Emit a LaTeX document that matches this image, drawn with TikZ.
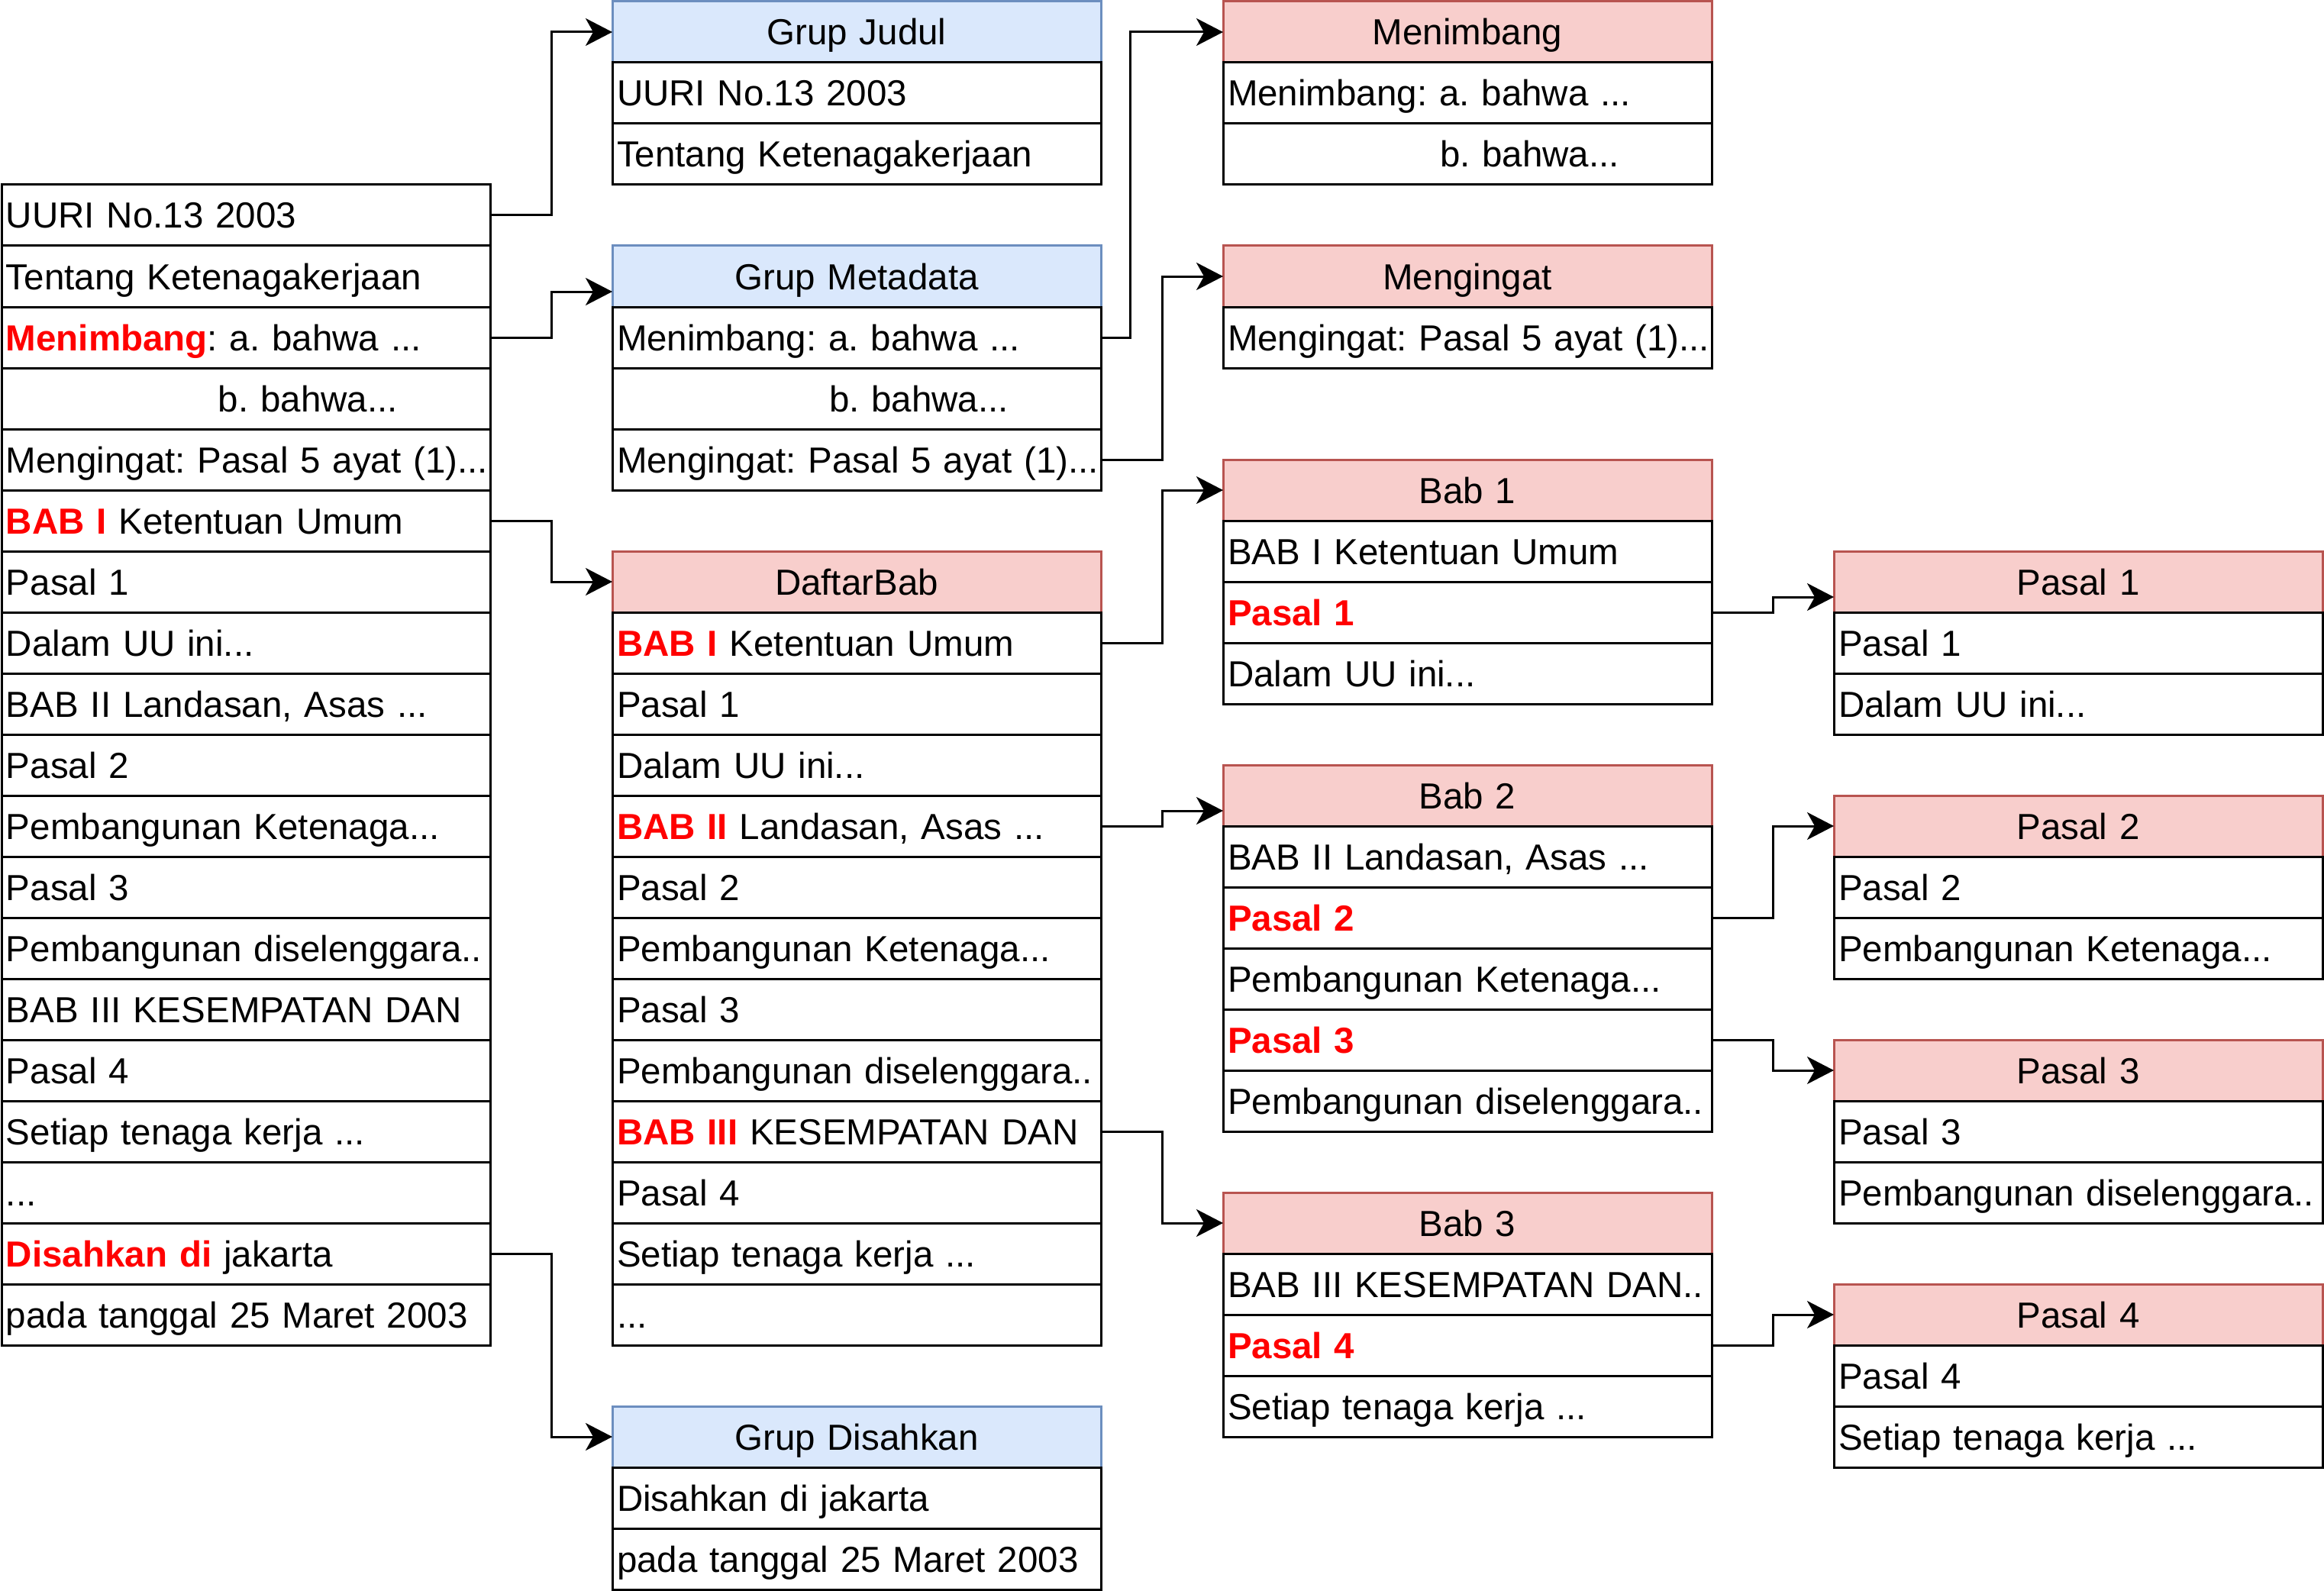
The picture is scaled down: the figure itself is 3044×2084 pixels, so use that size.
\documentclass[tikz,border=0pt]{standalone}
\usepackage{fontspec}
\setmainfont{Liberation Sans}
\usetikzlibrary{arrows.meta,calc}
\definecolor{hblue}{HTML}{DAE8FC}
\definecolor{sblue}{HTML}{6C8EBF}
\definecolor{hred}{HTML}{F8CECC}
\definecolor{sred}{HTML}{B85450}
\definecolor{txtred}{HTML}{FF0000}
\newcommand\rd[1]{\textcolor{txtred}{\textbf{#1}}}
\newcommand\cellfont{\fontsize{47.5pt}{57pt}\selectfont\frenchspacing}
\newcommand\bsp{\hspace*{278pt}}
\frenchspacing
\begin{document}
\begin{tikzpicture}[x=1pt,y=-1pt,
  cell/.style={draw=black,line width=3pt,fill=white,outer sep=0pt,
    minimum width=640pt,minimum height=80pt,text width=628pt,
    inner xsep=6pt,inner ysep=0pt,align=left,text height=34pt,text depth=0pt,
    anchor=north west,font=\cellfont},
  bhead/.style={cell,fill=hblue,draw=sblue,align=center},
  rhead/.style={cell,fill=hred,draw=sred,align=center},
  conn/.style={draw=black,line width=3pt,-{Stealth[length=35pt,width=36pt,inset=10pt]}}]
\useasboundingbox (0,0) rectangle (3044,2084);

% ---------- left column ----------
\node[cell] (L0)  at (2,242)  {UURI No.13 2003};
\node[cell] (L1)  at (2,322)  {Tentang Ketenagakerjaan};
\node[cell] (L2)  at (2,402)  {\rd{Menimbang}: a. bahwa ...};
\node[cell] (L3)  at (2,482)  {\bsp b. bahwa...};
\node[cell] (L4)  at (2,562)  {\mbox{Mengingat: Pasal 5 ayat (1)...}};
\node[cell] (L5)  at (2,642)  {\rd{BAB I} Ketentuan Umum};
\node[cell] (L6)  at (2,722)  {Pasal 1};
\node[cell] (L7)  at (2,802)  {Dalam UU ini...};
\node[cell] (L8)  at (2,882)  {BAB II Landasan, Asas ...};
\node[cell] (L9)  at (2,962)  {Pasal 2};
\node[cell] (L10) at (2,1042) {Pembangunan Ketenaga...};
\node[cell] (L11) at (2,1122) {Pasal 3};
\node[cell] (L12) at (2,1202) {\mbox{Pembangunan diselenggara..}};
\node[cell] (L13) at (2,1282) {BAB III KESEMPATAN DAN};
\node[cell] (L14) at (2,1362) {Pasal 4};
\node[cell] (L15) at (2,1442) {Setiap tenaga kerja ...};
\node[cell] (L16) at (2,1522) {...};
\node[cell] (L17) at (2,1602) {\rd{Disahkan di} jakarta};
\node[cell] (L18) at (2,1682) {pada tanggal 25 Maret 2003};

% ---------- second column ----------
\node[bhead] (GJ)  at (802,2)   {Grup Judul};
\node[cell]  (GJ1) at (802,82)  {UURI No.13 2003};
\node[cell]  (GJ2) at (802,162) {Tentang Ketenagakerjaan};

\node[bhead] (GM)  at (802,322) {Grup Metadata};
\node[cell]  (GM1) at (802,402) {Menimbang: a. bahwa ...};
\node[cell]  (GM2) at (802,482) {\bsp b. bahwa...};
\node[cell]  (GM3) at (802,562) {\mbox{Mengingat: Pasal 5 ayat (1)...}};

\node[rhead] (DB)   at (802,722)  {DaftarBab};
\node[cell]  (DB1)  at (802,802)  {\rd{BAB I} Ketentuan Umum};
\node[cell]  (DB2)  at (802,882)  {Pasal 1};
\node[cell]  (DB3)  at (802,962)  {Dalam UU ini...};
\node[cell]  (DB4)  at (802,1042) {\rd{BAB II} Landasan, Asas ...};
\node[cell]  (DB5)  at (802,1122) {Pasal 2};
\node[cell]  (DB6)  at (802,1202) {Pembangunan Ketenaga...};
\node[cell]  (DB7)  at (802,1282) {Pasal 3};
\node[cell]  (DB8)  at (802,1362) {\mbox{Pembangunan diselenggara..}};
\node[cell]  (DB9)  at (802,1442) {\rd{BAB III} KESEMPATAN DAN};
\node[cell]  (DB10) at (802,1522) {Pasal 4};
\node[cell]  (DB11) at (802,1602) {Setiap tenaga kerja ...};
\node[cell]  (DB12) at (802,1682) {...};

\node[bhead] (GD)  at (802,1842) {Grup Disahkan};
\node[cell]  (GD1) at (802,1922) {Disahkan di jakarta};
\node[cell]  (GD2) at (802,2002) {pada tanggal 25 Maret 2003};

% ---------- third column ----------
\node[rhead] (MN)  at (1602,2)   {Menimbang};
\node[cell]  (MN1) at (1602,82)  {Menimbang: a. bahwa ...};
\node[cell]  (MN2) at (1602,162) {\bsp b. bahwa...};

\node[rhead] (MG)  at (1602,322) {Mengingat};
\node[cell]  (MG1) at (1602,402) {\mbox{Mengingat: Pasal 5 ayat (1)...}};

\node[rhead] (B1)  at (1602,602) {Bab 1};
\node[cell]  (B1a) at (1602,682) {BAB I Ketentuan Umum};
\node[cell]  (B1b) at (1602,762) {\rd{Pasal 1}};
\node[cell]  (B1c) at (1602,842) {Dalam UU ini...};

\node[rhead] (B2)  at (1602,1002) {Bab 2};
\node[cell]  (B2a) at (1602,1082) {BAB II Landasan, Asas ...};
\node[cell]  (B2b) at (1602,1162) {\rd{Pasal 2}};
\node[cell]  (B2c) at (1602,1242) {Pembangunan Ketenaga...};
\node[cell]  (B2d) at (1602,1322) {\rd{Pasal 3}};
\node[cell]  (B2e) at (1602,1402) {\mbox{Pembangunan diselenggara..}};

\node[rhead] (B3)  at (1602,1562) {Bab 3};
\node[cell]  (B3a) at (1602,1642) {\mbox{BAB III KESEMPATAN DAN..}};
\node[cell]  (B3b) at (1602,1722) {\rd{Pasal 4}};
\node[cell]  (B3c) at (1602,1802) {Setiap tenaga kerja ...};

% ---------- fourth column ----------
\node[rhead] (P1)  at (2402,722) {Pasal 1};
\node[cell]  (P1a) at (2402,802) {Pasal 1};
\node[cell]  (P1b) at (2402,882) {Dalam UU ini...};

\node[rhead] (P2)  at (2402,1042) {Pasal 2};
\node[cell]  (P2a) at (2402,1122) {Pasal 2};
\node[cell]  (P2b) at (2402,1202) {Pembangunan Ketenaga...};

\node[rhead] (P3)  at (2402,1362) {Pasal 3};
\node[cell]  (P3a) at (2402,1442) {Pasal 3};
\node[cell]  (P3b) at (2402,1522) {\mbox{Pembangunan diselenggara..}};

\node[rhead] (P4)  at (2402,1682) {Pasal 4};
\node[cell]  (P4a) at (2402,1762) {Pasal 4};
\node[cell]  (P4b) at (2402,1842) {Setiap tenaga kerja ...};

% ---------- connectors ----------
\draw[conn] (L0.east)  -- ++(80,0) |- (GJ.west);
\draw[conn] (L2.east)  -- ++(80,0) |- ($(GM.north west)!0.75!(GM.south west)$);
\draw[conn] (L5.east)  -- ++(80,0) |- (DB.west);
\draw[conn] (L17.east) -- ++(80,0) |- (GD.west);
\draw[conn] (GM1.east) -- ++(38,0) |- (MN.west);
\draw[conn] (GM3.east) -- ++(80,0) |- (MG.west);
\draw[conn] (DB1.east) -- ++(80,0) |- (B1.west);
\draw[conn] (DB4.east) -- ++(80,0) |- ($(B2.north west)!0.75!(B2.south west)$);
\draw[conn] (DB9.east) -- ++(80,0) |- (B3.west);
\draw[conn] (B1b.east) -- ++(80,0) |- ($(P1.north west)!0.75!(P1.south west)$);
\draw[conn] (B2b.east) -- ++(80,0) |- (P2.west);
\draw[conn] (B2d.east) -- ++(80,0) |- (P3.west);
\draw[conn] (B3b.east) -- ++(80,0) |- (P4.west);
\end{tikzpicture}
\end{document}
